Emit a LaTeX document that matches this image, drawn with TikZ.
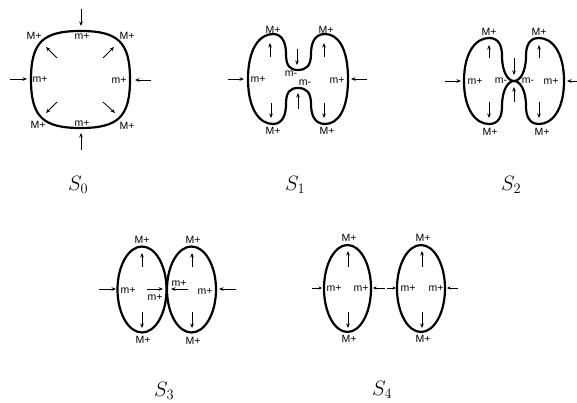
\documentclass[tikz,border=0pt]{standalone}
\usepackage{fontspec}
\newfontfamily\labfont{Liberation Sans}
\usetikzlibrary{arrows.meta}
\tikzset{
  outline/.style={line width=2.2pt, line join=round},
  push/.style={-{Stealth[length=4.5pt,width=3.6pt]}, line width=0.8pt},
  spush/.style={-{Stealth[length=3.5pt,width=3pt]}, line width=0.7pt},
  lab/.style={font=\labfont\fontsize{10.5}{11}\selectfont, inner sep=0pt},
  stagelabel/.style={font=\fontsize{20}{24}\selectfont, inner sep=0pt, anchor=base west}
}
\begin{document}
\begin{tikzpicture}[x=1pt,y=-1pt]
\useasboundingbox (0,0) rectangle (577,403);
% ---------- S0 ----------
\draw[outline] (31,79.5) .. controls (31,42) and (43,31) .. (80.5,31)
  .. controls (118,31) and (130,42) .. (130,79.5)
  .. controls (130,117) and (118,128) .. (80.5,128)
  .. controls (43,128) and (31,117) .. (31,79.5) -- cycle;
\draw[push] (81,9) -- (81,26);
\draw[push] (81,150) -- (81,133);
\draw[push] (10,79) -- (27,79);
\draw[push] (151,80) -- (135,80);
\draw[push] (57,58) -- (46,47);
\draw[push] (103,58) -- (114,47);
\draw[push] (57,102) -- (46,113);
\draw[push] (103,102) -- (115,113);
\node[lab] (a1) at (34,36) {M+};
\node[lab] (a2) at (127,36) {M+};
\node[lab] (a3) at (38,125) {M+};
\node[lab] (a4) at (127,126) {M+};
\node[lab] (a5) at (82,36) {m+};
\node[lab] (a6) at (82,123) {m+};
\node[lab] (a7) at (40,79) {m+};
\node[lab] (a8) at (119,80) {m+};
\node[stagelabel] (c0) at (68,190) {$S_0$};
% ---------- S1 ----------
\draw[outline] (248,79) .. controls (248,48) and (260,34) .. (273,34)
  .. controls (283,34) and (286,44) .. (286,54)
  .. controls (286,66) and (290,70) .. (298,70)
  .. controls (306,70) and (311,66) .. (311,54)
  .. controls (311,44) and (314,34) .. (325,34)
  .. controls (338,34) and (348,48) .. (348,79)
  .. controls (348,110) and (338,124) .. (325,124)
  .. controls (314,124) and (311,114) .. (311,104)
  .. controls (311,92) and (306,88) .. (298,88)
  .. controls (290,88) and (286,92) .. (286,104)
  .. controls (286,114) and (283,124) .. (273,124)
  .. controls (260,124) and (248,110) .. (248,79) -- cycle;
\draw[push] (228,79) -- (244,79);
\draw[push] (367,79) -- (351,79);
\draw[push] (270,57) -- (270,43);
\draw[push] (324,57) -- (324,43);
\draw[push] (297,49) -- (297,65);
\draw[push] (298,109) -- (298,93);
\draw[push] (271,103) -- (271,118);
\draw[push] (324,103) -- (324,118);
\node[lab] (b1) at (273,30) {M+};
\node[lab] (b2) at (326,30) {M+};
\node[lab] (b3) at (273,131) {M+};
\node[lab] (b4) at (327,131) {M+};
\node[lab] (b5) at (258,79) {m+};
\node[lab] (b6) at (337,80) {m+};
\node[lab] (b7) at (291,74) {m-};
\node[lab] (b8) at (305,83) {m-};
\node[stagelabel] (c1) at (285,190) {$S_1$};
% ---------- S2 ----------
\draw[outline] (464,81) .. controls (464,52) and (476,38) .. (489,38)
  .. controls (499,38) and (502,46) .. (502,56)
  .. controls (502,72) and (508,81) .. (514,81)
  .. controls (520,81) and (526,72) .. (526,56)
  .. controls (526,46) and (529,38) .. (539,38)
  .. controls (552,38) and (564,52) .. (564,81)
  .. controls (564,110) and (552,124) .. (539,124)
  .. controls (529,124) and (526,116) .. (526,106)
  .. controls (526,90) and (520,81) .. (514,81)
  .. controls (508,81) and (502,90) .. (502,106)
  .. controls (502,116) and (499,124) .. (489,124)
  .. controls (476,124) and (464,110) .. (464,81) -- cycle;
\draw[push] (445,81) -- (461,81);
\draw[push] (580,81) -- (567,81);
\draw[push] (489,58) -- (489,45);
\draw[push] (539,58) -- (539,45);
\draw[push] (514,58) -- (514,75);
\draw[push] (514,102) -- (514,87);
\draw[push] (489,102) -- (489,118);
\draw[push] (539,102) -- (539,118);
\node[lab] (d1) at (489,32) {M+};
\node[lab] (d2) at (539,32) {M+};
\node[lab] (d3) at (490,132) {M+};
\node[lab] (d4) at (542,132) {M+};
\node[lab] (d5) at (475,81) {m+};
\node[lab] (d6) at (501,81) {m-};
\node[lab] (d7) at (528,81) {m-};
\node[lab] (d8) at (551,81) {m+};
\node[stagelabel] (c2) at (501,190) {$S_2$};
% ---------- S3 ----------
\draw[outline] (142,289.5) ellipse [x radius=24.5, y radius=43];
\draw[outline] (191.5,289.5) ellipse [x radius=24.5, y radius=43];
\draw[push] (99,289) -- (116,289);
\draw[push] (236,289) -- (219,289);
\draw[push] (147,289) -- (163,289);
\draw[push] (188,289) -- (171,289);
\draw[push] (142,267) -- (142,253);
\draw[push] (192,267) -- (192,253);
\draw[push] (142,312) -- (142,328);
\draw[push] (192,312) -- (192,328);
\node[lab] (e1) at (142,240) {M+};
\node[lab] (e2) at (193,240) {M+};
\node[lab] (e3) at (143,340) {M+};
\node[lab] (e4) at (193,341) {M+};
\node[lab] (e5) at (128,290) {m+};
\node[lab] (e6) at (155,297) {m+};
\node[lab] (e7) at (179,283) {m+};
\node[lab] (e8) at (205,291) {m+};
\node[stagelabel] (c3) at (154,396) {$S_3$};
% ---------- S4 ----------
\draw[outline] (347.5,288.5) ellipse [x radius=23.5, y radius=43.5];
\draw[outline] (421,288.5) ellipse [x radius=24, y radius=43.5];
\draw[spush] (312,288) -- (322,288);
\draw[spush] (385,288) -- (373,288);
\draw[spush] (387,288) -- (396,288);
\draw[spush] (458,288) -- (447,288);
\draw[push] (348,267) -- (348,251);
\draw[push] (422,267) -- (422,251);
\draw[push] (348,312) -- (348,328);
\draw[push] (422,312) -- (422,328);
\node[lab] (f1) at (349,238) {M+};
\node[lab] (f2) at (423,238) {M+};
\node[lab] (f3) at (349,339) {M+};
\node[lab] (f4) at (423,339) {M+};
\node[lab] (f5) at (334,288) {m+};
\node[lab] (f6) at (361,288) {m+};
\node[lab] (f7) at (408,288) {m+};
\node[lab] (f8) at (436,288) {m+};
\node[stagelabel] (c4) at (372,395) {$S_4$};
\end{tikzpicture}
\end{document}
